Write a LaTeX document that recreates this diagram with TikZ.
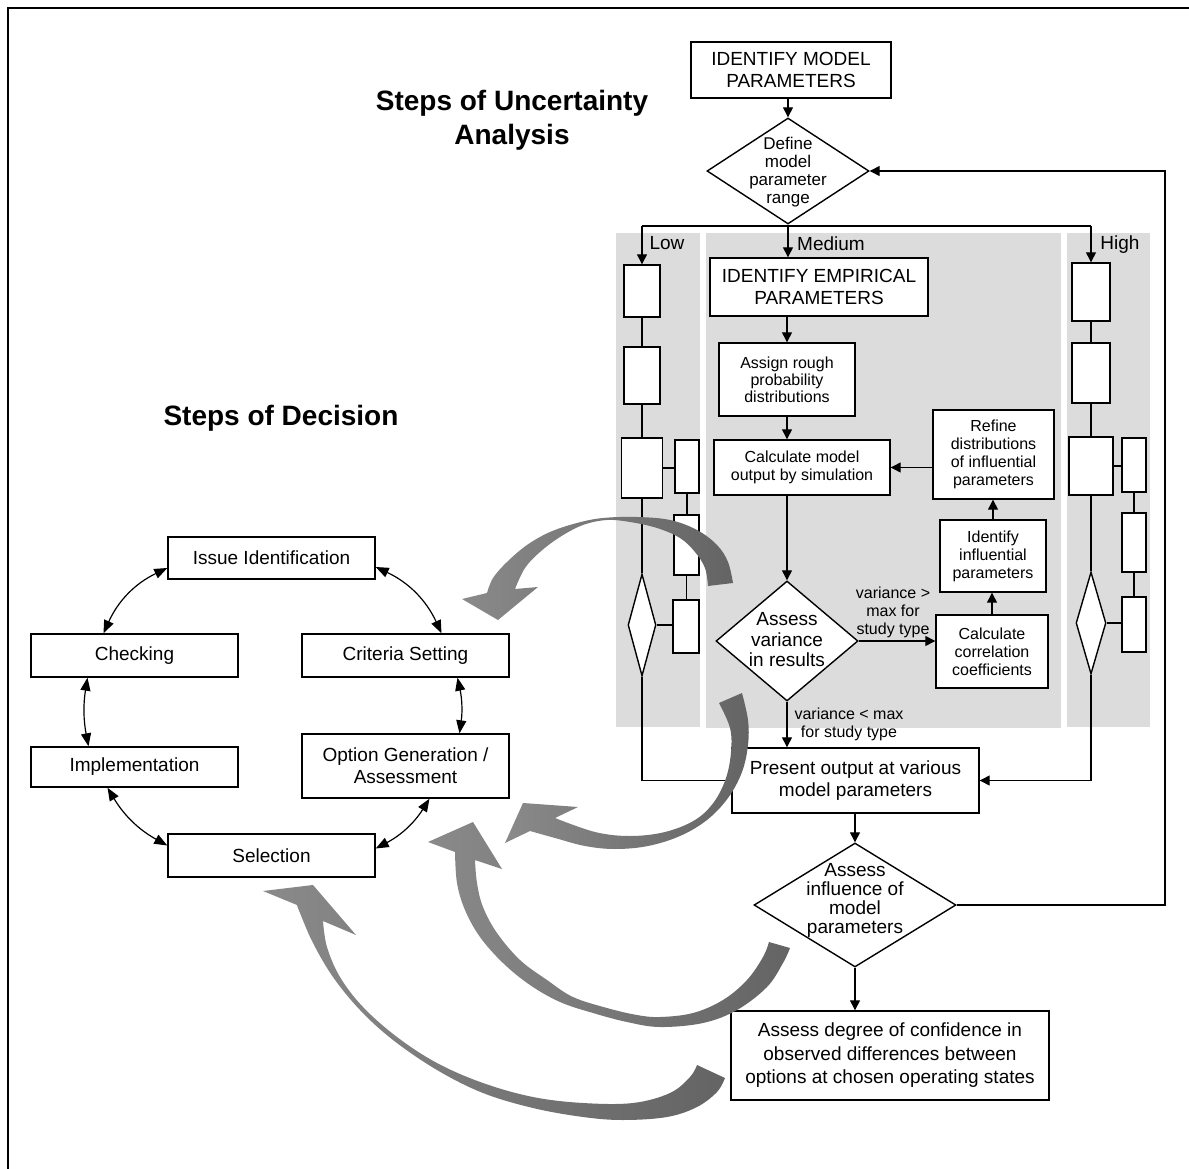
\documentclass[tikz,border=0pt]{standalone}
\usepackage{fontspec}
\setmainfont{Liberation Sans}
\usetikzlibrary{arrows.meta,shapes.geometric,calc}
\definecolor{panel}{RGB}{220,220,220}
\definecolor{adark}{RGB}{100,100,100}
\definecolor{alight}{RGB}{138,138,138}
\newcommand\myfs[2]{\fontsize{#1}{#2}\selectfont}
\begin{document}
\begin{tikzpicture}[x=1pt,y=-1pt,
  box/.style={draw, line width=1.4pt, fill=white, inner sep=0pt, align=center, font=\myfs{19}{22}},
  sbox/.style={box, font=\myfs{16}{18}},
  ebox/.style={draw, line width=1.4pt, fill=white, inner sep=0pt},
  dia/.style={draw, line width=1.4pt, fill=white, diamond, inner sep=0pt},
  txt/.style={align=center, inner sep=0pt, font=\myfs{19}{22}},
  stxt/.style={align=center, inner sep=0pt, font=\myfs{16}{18}},
  conn/.style={line width=1.3pt},
  arr/.style={conn, -{Triangle[length=10pt,width=10pt]}},
  barr/.style={line width=1.2pt, {Triangle[length=13pt,width=10pt]}-{Triangle[length=13pt,width=10pt]}},
  ttl/.style={align=center, inner sep=0pt, font=\bfseries\myfs{28}{34}},
  garrow/.style={left color=alight, right color=adark},
  ]
\useasboundingbox (0,0) rectangle (1189,1169);
% frame
\draw[line width=2pt] (8,1169) -- (8,8) -- (1189,8);
% panels
\fill[panel] (616,233) rectangle (700,727);
\fill[panel] (706,233) rectangle (1061,728);
\fill[panel] (1067,233) rectangle (1150,727);
% titles
\node[ttl] (t1) at (512,120) {Steps of Uncertainty\\Analysis};
\node[ttl] (t2) at (281,418) {Steps of Decision};
% main flow
\node[box, minimum width=200pt, minimum height=56pt] (idm) at (791,70) {IDENTIFY MODEL\\PARAMETERS};
\node[dia, minimum width=162pt, minimum height=106pt] (dmr) at (788,171) {};
\node[txt, font=\myfs{17}{18}] (dmrt) at (788,172) {Define\\model\\parameter\\range};
\node[txt] (lowl) at (667,243) {Low};
\node[txt] (medl) at (831,244) {Medium};
\node[txt] (higl) at (1120,245) {High};
\node[box, minimum width=218pt, minimum height=58pt] (emp) at (819,287) {IDENTIFY EMPIRICAL\\PARAMETERS};
\node[sbox, minimum width=136pt, minimum height=73pt, font=\myfs{16}{17}] (asg) at (787,379.5) {Assign rough\\probability\\distributions};
\node[sbox, minimum width=176pt, minimum height=55pt] (calc) at (802,467.5) {Calculate model\\output by simulation};
\node[sbox, minimum width=121pt, minimum height=89pt] (ref) at (993.5,454.5) {Refine\\distributions\\of influential\\parameters};
\node[sbox, minimum width=106pt, minimum height=72pt] (idf) at (993,556) {Identify\\influential\\parameters};
\node[sbox, minimum width=112pt, minimum height=73pt] (ccf) at (992,651.5) {Calculate\\correlation\\coefficients};
\node[dia, minimum width=142pt, minimum height=120pt] (avr) at (787,641) {};
\node[txt, font=\myfs{19}{20.5}] (avrt) at (787,640) {Assess\\variance\\in results};
\node[box, minimum width=247pt, minimum height=65pt] (prs) at (855.5,780.5) {Present output at various\\model parameters};
\node[dia, minimum width=202pt, minimum height=124pt] (aim) at (855,905) {};
\node[txt, font=\myfs{19}{19}] (aimt) at (855,900) {Assess\\influence of\\model\\parameters};
\node[box, minimum width=318pt, minimum height=89pt, font=\myfs{19}{23.5}] (adc) at (890,1055.5) {Assess degree of confidence in\\observed differences between\\options at chosen operating states};
\node[stxt] (vgt) at (893,612) {variance >\\max for\\study type};
\node[stxt] (vlt) at (849,724) {variance < max\\for study type};
% low column
\node[ebox, minimum width=36pt, minimum height=52pt] (lb1) at (642,291) {};
\node[ebox, minimum width=36pt, minimum height=57pt] (lb2) at (642,375.5) {};
\node[ebox, minimum width=41pt, minimum height=60pt] (lb3) at (642,468) {};
\node[ebox, minimum width=24pt, minimum height=53pt] (la) at (687,466.5) {};
\node[ebox, minimum width=25pt, minimum height=60pt] (lbb) at (686.5,545) {};
\node[ebox, minimum width=26pt, minimum height=53pt] (lc) at (686,626.5) {};
\node[dia, minimum width=28pt, minimum height=102pt] (ld) at (642,625) {};
% high column
\node[ebox, minimum width=38pt, minimum height=58pt] (hb1) at (1091,292) {};
\node[ebox, minimum width=38pt, minimum height=60pt] (hb2) at (1091,373) {};
\node[ebox, minimum width=44pt, minimum height=58pt] (hb3) at (1091,466) {};
\node[ebox, minimum width=24pt, minimum height=54pt] (ha) at (1134,465) {};
\node[ebox, minimum width=24pt, minimum height=59pt] (hbb) at (1134,542.5) {};
\node[ebox, minimum width=24pt, minimum height=55pt] (hc) at (1134,624.5) {};
\node[dia, minimum width=30pt, minimum height=102pt] (hd) at (1091,623) {};
% connectors main
\draw[arr] (idm.south -| dmr.north) -- (dmr.north);
\coordinate (brL) at (642,226);
\coordinate (brR) at (1091,226);
\coordinate (rtop) at (1165,171);
\draw[conn] (brL) -- (brR);
\draw[arr] (brL) -- (lb1.north);
\draw[arr] (brR) -- (hb1.north);
\draw[arr] (dmr.south) -- (dmr.south |- emp.north);
\draw[arr] (asg.north |- emp.south) -- (asg.north);
\draw[arr] (asg.south) -- (asg.south |- calc.north);
\draw[arr] (ref.west |- calc.east) -- (calc.east);
\draw[arr] (idf.north) -- (idf.north |- ref.south);
\draw[arr] (ccf.north) -- (ccf.north |- idf.south);
\draw[arr] (avr.north |- calc.south) -- (avr.north);
\draw[arr] (avr.east) -- (avr.east -| ccf.west);
\draw[arr] (avr.south) -- (avr.south |- prs.north);
\draw[arr] (prs.south -| aim.north) -- (aim.north);
\draw[arr] (aim.south) -- (aim.south |- adc.north);
\draw[arr] (aim.east) -| (rtop) -- (dmr.east);
% low connectors
\draw[conn] (lb1.south) -- (lb2.north);
\draw[conn] (lb2.south) -- (lb3.north);
\draw[conn] (lb3.south) -- (ld.north);
\draw[conn] (lb3.east) -- (lb3.east -| la.west);
\draw[conn] (la.south) -- (la.south |- lbb.north);
\draw[conn] (lbb.south) -- (lbb.south |- lc.north);
\draw[conn] (ld.east) -- (ld.east -| lc.west);
\draw[conn] (ld.south) |- (prs.west);
% high connectors
\draw[conn] (hb1.south) -- (hb2.north);
\draw[conn] (hb2.south) -- (hb3.north);
\draw[conn] (hb3.south) -- (hd.north);
\draw[conn] (hb3.east) -- (hb3.east -| ha.west);
\draw[conn] (ha.south) -- (hbb.north);
\draw[conn] (hbb.south) -- (hc.north);
\draw[conn] (hd.east) -- (hd.east -| hc.west);
\draw[arr] (hd.south) |- (prs.east);
% decision cycle
\node[box, minimum width=207pt, minimum height=42pt] (iss) at (271.5,558) {Issue Identification};
\node[box, minimum width=207pt, minimum height=43pt] (chk) at (134.5,655.5) {Checking};
\node[box, minimum width=207pt, minimum height=43pt] (crt) at (405.5,655.5) {Criteria Setting};
\node[box, minimum width=207pt, minimum height=40pt] (imp) at (134.5,767) {Implementation};
\node[box, minimum width=207pt, minimum height=64pt] (opt) at (405.5,766) {Option Generation /\\Assessment};
\node[box, minimum width=207pt, minimum height=43pt] (sel) at (271.5,855.5) {Selection};
\draw[barr] ([yshift=-10pt]iss.west) to[bend right=20] ([xshift=-31pt]chk.north);
\draw[barr] ([yshift=-9pt]iss.east) to[bend left=20] ([xshift=36pt]crt.north);
\draw[barr] ([xshift=52pt]crt.south) to[bend left=10] ([xshift=54pt]opt.north);
\draw[barr] ([xshift=-47pt]chk.south) to[bend right=10] ([xshift=-46pt]imp.north);
\draw[barr] ([xshift=-27pt]imp.south) to[bend right=15] ([yshift=10pt]sel.west);
\draw[barr] ([xshift=24pt]opt.south) to[bend left=15] ([yshift=7pt]sel.east);
% gray curved arrows
\shade[garrow] (733,583) -- plot[smooth, tension=0.6] coordinates {(733,583) (728,562) (717,545) (697,530) (670,520) (637,517) (603,518) (577,523) (550,532) (527,545) (507,562) (493,578) (487,593)} -- (462,599) -- (498,620) -- (538,587) -- plot[smooth, tension=0.6] coordinates {(515,589) (525,568) (540,552) (560,537) (583,525) (607,520) (630,522) (657,528) (680,538) (695,552) (705,568) (708,586)} -- cycle;
\shade[garrow] (742,693) -- plot[smooth, tension=0.6] coordinates {(742,693) (748,720) (748,745) (742,772) (728,798) (707,820) (680,836) (648,846) (615,849) (585,846) (555,838) (530,831)} -- (505,843) -- (523,803) -- (578,807) -- plot[smooth, tension=0.6] coordinates {(555,818) (595,832) (630,836) (665,832) (695,820) (714,802) (726,778) (731,752) (730,728) (719,703)} -- cycle;
\shade[garrow] (790,948) -- plot[smooth, tension=0.6] coordinates {(790,948) (783,963) (767,987) (737,1010) (703,1023) (660,1027) (627,1022) (593,1013) (560,1002) (530,985) (503,963) (480,937) (465,910) (457,883) (455,852)} -- (428,842) -- (473,822) -- (502,869) -- plot[smooth, tension=0.6] coordinates {(475,860) (477,883) (483,907) (497,933) (520,960) (547,980) (573,997) (607,1008) (637,1015) (660,1017) (693,1013) (723,1000) (747,980) (763,957) (769,942)} -- cycle;
\shade[garrow] (725,1078) -- plot[smooth, tension=0.6] coordinates {(725,1078) (717,1092) (697,1107) (667,1117) (623,1120) (583,1117) (533,1108) (483,1093) (437,1070) (393,1040) (360,1010) (333,977) (313,943) (300,913) (297,905)} -- (263,891) -- (313,885) -- (356,935) -- plot[smooth, tension=0.6] coordinates {(323,921) (327,947) (340,977) (363,1007) (397,1037) (437,1063) (483,1083) (533,1097) (583,1103) (633,1103) (670,1093) (690,1077) (697,1065)} -- cycle;
\end{tikzpicture}
\end{document}
